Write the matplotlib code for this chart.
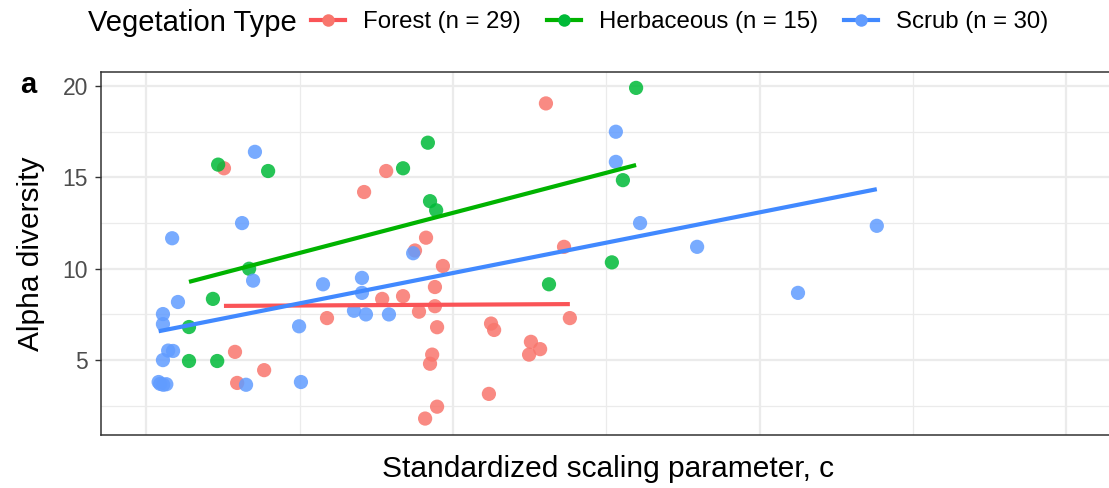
import numpy as np
import matplotlib
matplotlib.use('Agg')
import matplotlib.pyplot as plt
from matplotlib.lines import Line2D
from matplotlib.ticker import MultipleLocator, NullFormatter

plt.rcParams['font.family'] = ['Liberation Sans', 'DejaVu Sans']

# standardized scaling parameter (x) and alpha diversity (y) per vegetation type
forest_x = [-0.747, -0.711, -0.704, -0.616, -0.411, -0.290, -0.218, -0.231, -0.163, -0.111,
            -0.088, -0.124, -0.033, -0.059, -0.059, -0.052, -0.068, -0.075, -0.052, -0.091,
            0.303, 0.362, 0.124, 0.134, 0.254, 0.284, 0.248, 0.381, 0.117]
forest_y = [15.5, 5.45, 3.75, 4.45, 7.3, 14.2, 15.35, 8.35, 8.5, 7.65,
            11.7, 11.0, 10.15, 9.0, 7.95, 6.8, 5.3, 4.8, 2.45, 1.8,
            19.05, 11.2, 7.0, 6.65, 6.0, 5.6, 5.3, 7.3, 3.15]

herb_x = [-0.766, -0.603, -0.783, -0.861, -0.861, -0.769, -0.665, -0.082, -0.163, -0.075,
          -0.055, 0.313, 0.518, 0.554, 0.597]
herb_y = [15.7, 15.35, 8.35, 6.81, 4.95, 4.95, 10.0, 16.9, 15.5, 13.7,
          13.2, 9.15, 10.35, 14.85, 19.9]

scrub_x = [-0.960, -0.955, -0.945, -0.935, -0.946, -0.929, -0.913, -0.946, -0.946, -0.897,
           -0.916, -0.646, -0.688, -0.652, -0.675, -0.502, -0.496, -0.424, -0.297, -0.297,
           -0.323, -0.284, -0.209, -0.130, 0.531, 0.531, 0.610, 0.796, 1.125, 1.382]
scrub_y = [3.80, 3.70, 3.65, 3.68, 5.00, 5.52, 5.50, 6.97, 7.52, 8.18,
           11.67, 16.4, 12.5, 9.35, 3.65, 6.85, 3.80, 9.15, 9.50, 8.68,
           7.70, 7.50, 7.50, 10.85, 17.5, 15.85, 12.5, 11.2, 8.68, 12.35]

groups = [
    ('Forest (n = 29)', forest_x, forest_y, '#F8766D', '#FA5457'),
    ('Herbaceous (n = 15)', herb_x, herb_y, '#00BA38', '#00B300'),
    ('Scrub (n = 30)', scrub_x, scrub_y, '#619CFF', '#4189FF'),
]

fig = plt.figure(figsize=(11.09, 4.88), dpi=100)
ax = fig.add_axes([101 / 1109, 1 - 435 / 488, 1011 / 1109, 363 / 488])

handles = []
for label, xs, ys, pcol, lcol in groups:
    xs = np.array(xs)
    ys = np.array(ys)
    ax.scatter(xs, ys, s=105, color=pcol, alpha=0.85, edgecolors='none', zorder=3)
    # linear fit over each group's range
    slope, icpt = np.polyfit(xs, ys, 1)
    xx = np.array([xs.min(), xs.max()])
    ax.plot(xx, slope * xx + icpt, color=lcol, lw=3, solid_capstyle='butt', zorder=4)
    handles.append(Line2D([0], [0], color=lcol, lw=3, marker='o', markersize=9,
                          markerfacecolor=pcol, markeredgecolor='none'))

ax.set_xlim(-1.148, 2.149)
ax.set_ylim(0.9, 20.77)
ax.xaxis.set_major_locator(MultipleLocator(1))
ax.xaxis.set_minor_locator(MultipleLocator(0.5))
ax.yaxis.set_major_locator(MultipleLocator(5))
ax.yaxis.set_minor_locator(MultipleLocator(2.5))
ax.xaxis.set_major_formatter(NullFormatter())
ax.grid(which='major', color='#EBEBEB', lw=1.6, zorder=0)
ax.grid(which='minor', color='#EBEBEB', lw=0.9, zorder=0)
ax.set_axisbelow(True)
ax.tick_params(axis='x', which='both', length=0)
ax.tick_params(axis='y', which='minor', length=0)
ax.tick_params(axis='y', which='major', length=4.5, width=1, color='#333333',
               labelsize=16.5, labelcolor='#4D4D4D', pad=5)
for sp in ax.spines.values():
    sp.set_color('#333333')
    sp.set_linewidth(1.1)

ax.set_ylabel('Alpha diversity', fontsize=21.5)
ax.yaxis.set_label_coords(-0.0554, 0.5)
ax.set_xlabel('Standardized scaling parameter, c', fontsize=21.5)
ax.xaxis.set_label_coords(0.5015, -0.055)

fig.text(20 / 1109, 1 - 93 / 488, 'a', fontsize=21, fontweight='bold', va='baseline')

fig.text(297 / 1109, 1 - 31 / 488, 'Vegetation Type', fontsize=21, ha='right', va='baseline')
fig.legend(handles, [g[0] for g in groups], loc='center left',
           bbox_to_anchor=(311 / 1109, 1 - 22 / 488), ncol=3, frameon=False,
           fontsize=17.3, handlelength=1.42, handletextpad=0.75, columnspacing=1.08,
           borderpad=0, borderaxespad=0)

fig.savefig('out.png', dpi=100)
